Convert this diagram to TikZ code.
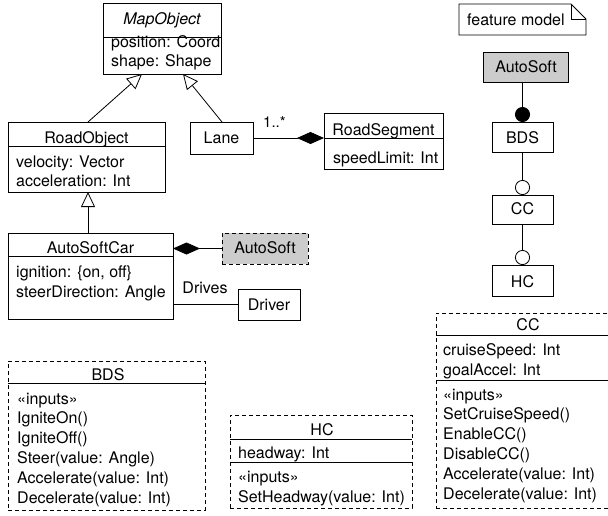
\documentclass[tikz,border=0pt]{standalone}
\usepackage{fontspec}
\setmainfont{TeX Gyre Heros}
\usetikzlibrary{arrows.meta,fit,calc}
\definecolor{featgray}{gray}{0.8}
\begin{document}
\begin{tikzpicture}[x=1pt, y=-1pt,
  font=\fontsize{16}{19}\selectfont,
  box/.style={draw, line width=0.8pt, inner sep=0pt, outer sep=0pt},
  dbox/.style={box, dash pattern=on 4pt off 3pt},
  shaded/.style={fill=featgray},
  lbl/.style={inner sep=0pt, anchor=base west},
  ttl/.style={inner sep=0pt, anchor=base},
  sep/.style={line width=0.8pt},
  gen/.style={line width=0.8pt, -{Triangle[open, length=15pt, width=14pt, fill=white]}},
  comp/.style={line width=0.8pt, {Diamond[length=27pt, width=12pt]}-},
  assoc/.style={line width=0.8pt},
  mandatory/.style={line width=0.8pt, -{Circle[length=15pt]}},
  optional/.style={line width=0.8pt, -{Circle[open, length=15pt, fill=white]}}]

\useasboundingbox (0,0) rectangle (608,515);
\clip (0,0) rectangle (608,515);

% ---------- class boxes ----------
\node[box, fit={(103,3) (221,74)}] (mapobj) {};
\draw[sep] (mapobj.west |- 0,37) -- (mapobj.east |- 0,37);
\node[ttl] (mapobj-t) at (162,24) {\itshape MapObject};
\node[lbl] (mapobj-a1) at (111,47) {position: Coord};
\node[lbl] (mapobj-a2) at (111,66) {shape: Shape};

\node[box, fit={(8,122) (165,192)}] (roadobj) {};
\draw[sep] (roadobj.west |- 0,146) -- (roadobj.east |- 0,146);
\node[ttl] (roadobj-t) at (86.5,143) {RoadObject};
\node[lbl] (roadobj-a1) at (16,167) {velocity: Vector};
\node[lbl] (roadobj-a2) at (16,186) {acceleration: Int};

\node[box, fit={(190,122) (253,154)}] (lane) {};
\node[ttl] (lane-t) at (221.5,143) {Lane};

\node[box, fit={(324,113) (443,169)}] (roadseg) {};
\draw[sep] (roadseg.west |- 0,138) -- (roadseg.east |- 0,138);
\node[ttl] (roadseg-t) at (383.5,135) {RoadSegment};
\node[lbl] (roadseg-a1) at (333,163) {speedLimit: Int};

\node[box, fit={(8,233) (173,319)}] (car) {};
\draw[sep] (car.west |- 0,256) -- (car.east |- 0,256);
\node[ttl] (car-t) at (90.5,253) {AutoSoftCar};
\node[lbl] (car-a1) at (16,277) {ignition: \{on, off\}};
\node[lbl] (car-a2) at (16,297) {steerDirection: Angle};

\node[dbox, shaded, fit={(222,233) (308,264)}] (autosoft) {};
\node[ttl] (autosoft-t) at (265,253) {AutoSoft};

\node[box, fit={(238,289) (300,320)}] (driver) {};
\node[ttl] (driver-t) at (269,310) {Driver};

% ---------- class relations ----------
\draw[gen] ($(roadobj.north west)+(80,0)$) -- ($(mapobj.south west)+(39,0)$);
\draw[gen] ($(lane.north west)+(32,0)$) -- ($(mapobj.south west)+(80,0)$);
\draw[gen] ($(car.north west)+(80,0)$) -- ($(roadobj.south west)+(80,0)$);
\draw[comp] (lane.east -| roadseg.west) -- (lane.east);
\node[lbl, font=\fontsize{15}{18}\selectfont] (mult) at (263,127) {1..*};
\draw[comp] (autosoft.west -| car.east) -- (autosoft.west);
\draw[assoc] (driver.west -| car.east) -- (driver.west);
\node[ttl] (drives) at (205,293) {Drives};

% ---------- feature model ----------
\draw[line width=0.8pt] (459,4) -- (571,4) -- (586,19) -- (586,35) -- (459,35) -- cycle;
\draw[line width=0.8pt] (571,4) -- (571,19) -- (586,19);
\node[lbl] (note-t) at (467,25) {feature model};

\node[box, shaded, fit={(483,52) (568,82)}] (fas) {};
\node[ttl] (fas-t) at (526,72) {AutoSoft};
\node[box, fit={(492,122) (553,152)}] (fbds) {};
\node[ttl] (fbds-t) at (522.5,143) {BDS};
\node[box, fit={(492,195) (553,224)}] (fcc) {};
\node[ttl] (fcc-t) at (522.5,214) {CC};
\node[box, fit={(492,265) (553,296)}] (fhc) {};
\node[ttl] (fhc-t) at (522.5,287) {HC};

\draw[mandatory] (fbds.north |- fas.south) -- (fbds.north);
\draw[optional] (fcc.north |- fbds.south) -- (fcc.north);
\draw[optional] (fhc.north |- fcc.south) -- (fhc.north);

% ---------- feature classes ----------
\node[dbox, fit={(8,361) (205,510)}] (bds) {};
\draw[sep] (bds.west |- 0,383) -- (bds.east |- 0,383);
\node[ttl] (bds-t) at (108,380) {BDS};
\foreach \t [count=\i from 0] in {«inputs», IgniteOn(), IgniteOff(), {Steer(value: Angle)}, {Accelerate(value: Int)}, {Decelerate(value: Int)}}
  \node[lbl] (bds-l\i) at (17,404+19.8*\i) {\t};

\node[dbox, fit={(230,415) (412,508)}] (hc) {};
\draw[sep] (hc.west |- 0,439) -- (hc.east |- 0,439);
\draw[sep] (hc.west |- 0,462) -- (hc.east |- 0,462);
\node[ttl] (hc-t) at (322,435) {HC};
\node[lbl] (hc-a1) at (238,458) {headway: Int};
\node[lbl] (hc-l0) at (238,482) {«inputs»};
\node[lbl] (hc-l1) at (238,502) {SetHeadway(value: Int)};

\node[dbox, fit={(436,313) (620,508)}] (cc) {};
\draw[sep] (cc.west |- 0,335) -- (cc.east |- 0,335);
\draw[sep] (cc.west |- 0,380) -- (cc.east |- 0,380);
\node[ttl] (cc-t) at (528,330) {CC};
\node[lbl] (cc-a1) at (443,355) {cruiseSpeed: Int};
\node[lbl] (cc-a2) at (443,375) {goalAccel: Int};
\foreach \t [count=\i from 0] in {«inputs», SetCruiseSpeed(), EnableCC(), DisableCC(), {Accelerate(value: Int)}, {Decelerate(value: Int)}}
  \node[lbl] (cc-l\i) at (443,400+19.8*\i) {\t};
\end{tikzpicture}
\end{document}
